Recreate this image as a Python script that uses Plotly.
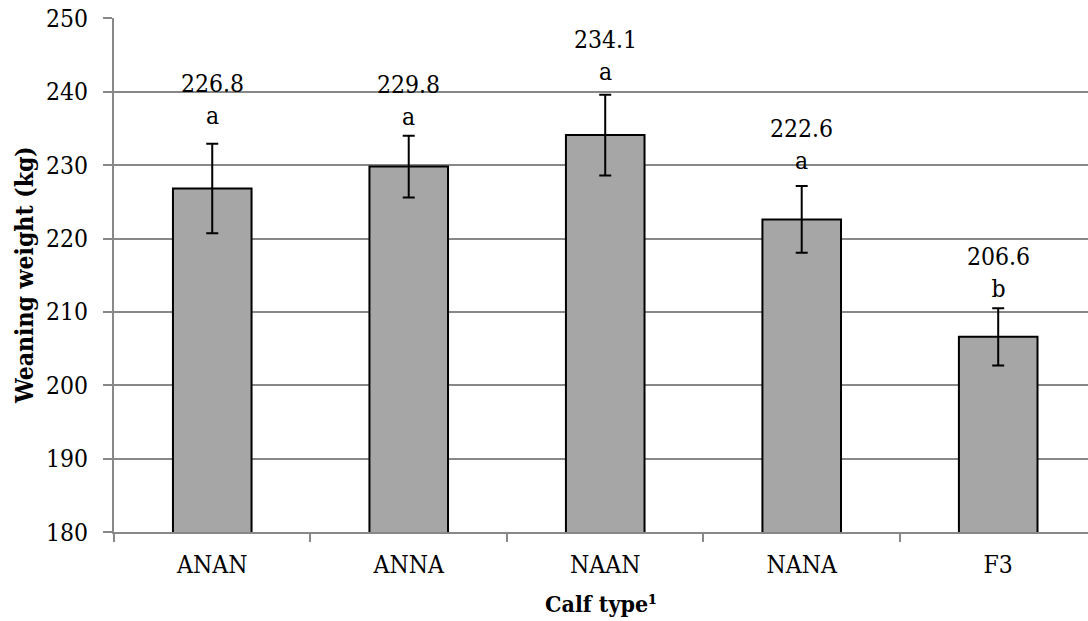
import plotly.graph_objects as go

categories = ["ANAN", "ANNA", "NAAN", "NANA", "F3"]
weights = [226.8, 229.8, 234.1, 222.6, 206.6]
errors = [6.1, 4.2, 5.5, 4.55, 3.9]
letters = ["a", "a", "a", "a", "b"]
# vertical centre of each two-line label (data units)
label_y = [239.0, 238.8, 245.0, 232.8, 215.3]

FONT = "DejaVu Serif Condensed, DejaVu Serif"
FS = 24.5

fig = go.Figure()
fig.add_trace(go.Bar(
    x=categories, y=weights, width=0.4,
    marker=dict(color="#A6A6A6", line=dict(color="black", width=2)),
    error_y=dict(type="data", array=errors, color="black", thickness=2, width=6),
))

for c, v, l, ly in zip(categories, weights, letters, label_y):
    fig.add_annotation(x=c, y=ly, xref="x", yref="y", text=f"{v:.1f}<br>{l}",
                       showarrow=False, font=dict(family=FONT, size=FS, color="black"),
                       yanchor="middle", xanchor="center")

fig.add_annotation(xref="paper", yref="paper", x=0, y=0.5, xshift=-90,
                   text="<b>Weaning weight (kg)</b>", textangle=-90, showarrow=False,
                   font=dict(family=FONT, size=FS, color="black"),
                   xanchor="center", yanchor="middle")
fig.add_annotation(xref="paper", yref="paper", x=0.5, y=0, yshift=-71,
                   text="<b>Calf type¹</b>", showarrow=False,
                   font=dict(family=FONT, size=23, color="black"),
                   xanchor="center", yanchor="middle")

fig.update_layout(
    width=1088, height=621,
    margin=dict(l=114, r=0, t=18, b=89),
    paper_bgcolor="white", plot_bgcolor="white",
    showlegend=False,
    font=dict(family=FONT, size=FS, color="black"),
    xaxis=dict(
        range=[-0.5, 4.457], showline=True, linecolor="#888888", linewidth=2,
        ticks="outside", tickson="boundaries", ticklen=8, tickcolor="#888888", tickwidth=2,
        showgrid=False, ticklabelstandoff=10,
        tickfont=dict(family=FONT, size=FS),
    ),
    yaxis=dict(
        range=[180, 250.05], tickmode="linear", tick0=180, dtick=10,
        showline=True, linecolor="#888888", linewidth=2,
        ticks="outside", ticklen=9, tickcolor="#888888", tickwidth=2,
        showgrid=True, gridcolor="#888888", gridwidth=1.5,
        ticklabelstandoff=10, ticklabeloverflow="allow", automargin=False,
        tickfont=dict(family=FONT, size=FS),
    ),
)

fig.write_html("out.html", config={"displayModeBar": False},
               post_script="document.body.style.margin='0';document.body.style.padding='0';")
